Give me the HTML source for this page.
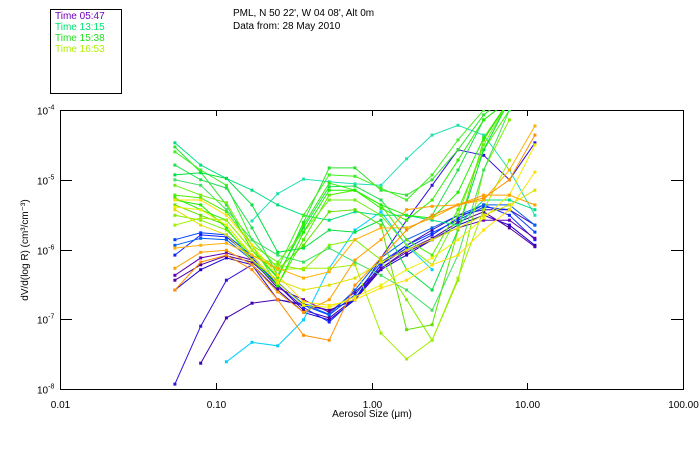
<!DOCTYPE html>
<html><head><meta charset="utf-8"><style>
body{margin:0;background:#fff;width:700px;height:450px;overflow:hidden}
svg{display:block;font-family:"Liberation Sans","DejaVu Sans",sans-serif}
</style></head><body>
<svg id="chart" width="700" height="450">
<rect x="0" y="0" width="700" height="450" fill="#fff"/>
<g>
<rect x="50.5" y="9.5" width="71" height="84" fill="none" stroke="#000"/>
<text x="55" y="19" font-size="10" fill="#7000c0">Time 05:47</text>
<text x="55" y="30" font-size="10" fill="#00e070">Time 13:15</text>
<text x="55" y="41" font-size="10" fill="#20e020">Time 15:38</text>
<text x="55" y="52" font-size="10" fill="#b0f000">Time 16:53</text>
</g>
<text x="233" y="16" font-size="10">PML, N 50 22', W 04 08', Alt 0m</text>
<text x="233" y="29" font-size="10">Data from: 28 May 2010</text>
<g id="axes"></g>
<defs><clipPath id="pc"><rect x="60" y="110" width="623" height="279"/></clipPath></defs>
<g id="series" clip-path="url(#pc)"></g>
<text x="372" y="417" font-size="10" text-anchor="middle">Aerosol Size (μm)</text>
<text transform="translate(28,250) rotate(-90)" font-size="10" text-anchor="middle">dV/d(log R) (cm³/cm⁻³)</text>
</svg>
<script>
// bin sizes (micrometres)
const sizes = [0.0547,0.0800,0.117,0.171,0.250,0.366,0.535,0.783,1.15,1.68,2.45,3.59,5.25,7.68,11.2];
const xTicks = [0.01,0.1,1,10,100];
const xTickLabels = ["0.01","0.10","1.00","10.00","100.00"];
const yTickExps = [-4,-5,-6,-7,-8];
// log10(dV/dlogR) per series
const seriesColors = ["#3010e0","#4000b0","#2000d0","#5000a0","#0040ff","#1020ff","#6000b0","#0060f0","#00d0ff","#20e0b0","#00e080",
"#30e030","#40f020","#20e050","#50f000","#30f000","#00e040","#60e000","#80f000","#a0f000","#40e060","#70f010","#20f000",
"#ffe000","#f0f000","#ffb000","#ff9000","#ffa000","#e0e000"];
const s0 = [-7.93,-7.10,-6.44,-6.22,-6.72,-6.80,-6.87,-6.72,-6.12,-5.58,-5.08,-4.57,-4.65,-5.00,-4.47];
const s1 = [null,-7.63,-6.98,-6.77,-6.72,-6.78,-6.87,-6.72,-6.22,-5.94,-5.72,-5.51,-5.43,-5.43,-5.65];
const s2 = [-6.58,-6.29,-6.12,-6.22,-6.58,-6.90,-7.01,-6.72,-6.29,-6.08,-5.86,-5.65,-5.51,-5.65,-5.94];
const s3 = [-6.44,-6.22,-6.09,-6.18,-6.51,-6.87,-6.98,-6.70,-6.27,-6.01,-5.84,-5.61,-5.46,-5.69,-5.96];
const s4 = [-5.86,-5.76,-5.79,-6.09,-6.47,-6.80,-6.94,-6.65,-6.18,-5.94,-5.76,-5.58,-5.39,-5.43,-5.75];
const s5 = [-6.08,-5.79,-5.82,-6.12,-6.51,-6.83,-7.04,-6.70,-6.22,-5.98,-5.79,-5.55,-5.36,-5.51,-5.86];
const s6 = [-6.37,-6.12,-6.05,-6.15,-6.55,-6.72,-6.90,-6.61,-6.27,-6.04,-5.86,-5.69,-5.58,-5.58,-5.84];
const s7 = [-5.94,-5.84,-5.86,-6.15,-6.48,-6.78,-6.93,-6.58,-6.12,-5.86,-5.69,-5.51,-5.36,-5.36,-5.65];
const s8 = [null,null,-7.61,-7.33,-7.38,-7.01,-6.27,-5.72,-5.46,-5.94,-6.29,null,null,null,null];
const s9 = [null,null,null,-5.59,-5.20,-4.99,-5.03,-5.06,-5.08,-4.70,-4.36,-4.22,-4.36,-4.86,-5.51];
const s10 = [-4.47,-4.79,-4.98,-5.15,-5.36,-5.51,-5.58,-5.46,-5.51,-5.51,-5.58,-5.65,-5.29,-5.29,-5.43];
const s11 = [-4.53,-4.89,-5.36,-6.01,-6.41,-5.61,-4.83,-4.83,-5.15,-5.22,-5.00,-4.57,-4.07,-3.78,null];
const s12 = [-4.60,-4.86,-5.08,-5.86,-6.27,-5.51,-4.93,-4.95,-5.12,-5.29,-4.93,-4.43,-4.00,-3.70,null];
const s13 = [-4.79,-5.00,-5.12,-5.69,-6.37,-5.69,-5.10,-5.09,-5.29,-5.72,-5.51,-4.86,-4.14,-3.86,null];
const s14 = [-5.22,-5.26,-5.46,-5.94,-6.51,-5.86,-5.22,-5.15,-5.36,-5.86,-6.08,-5.43,-4.57,-4.00,null];
const s15 = [-5.26,-5.43,-5.58,-6.01,-6.39,-5.65,-5.05,-5.15,-5.41,-5.58,-5.29,-4.72,-4.14,-3.86,null];
const s16 = [-4.93,-4.90,-4.98,-5.36,-6.04,-5.98,-5.72,-5.75,-5.58,-6.29,-6.58,-5.72,-4.57,-3.86,null];
const s17 = [-5.36,-5.51,-5.65,-6.08,-6.29,-5.94,-5.46,-5.43,-5.65,-7.15,-7.08,-5.72,-4.43,-3.86,null];
const s18 = [-5.51,-5.58,-5.72,-6.08,-6.22,-6.29,-5.94,-5.86,-6.15,-6.72,-7.30,-6.44,-4.86,-4.14,null];
const s19 = [-5.65,-5.55,-5.58,-6.01,-6.29,-6.27,-6.27,-6.22,-7.20,-7.57,-7.30,-6.41,-5.43,-4.72,null];
const s20 = [-5.00,-5.08,-5.43,-5.86,-6.08,-6.18,-5.98,-6.18,-6.37,-6.58,-6.87,-6.08,-4.86,-4.00,null];
const s21 = [-5.08,-5.22,-5.33,-5.94,-6.18,-5.75,-5.29,-5.29,-5.51,-5.94,-6.22,-5.51,-4.50,-3.86,null];
const s22 = [-5.29,-5.36,-5.69,-6.15,-6.52,-5.75,-5.15,-5.15,-5.36,-5.51,-5.55,-5.18,-4.40,-3.86,null];
const s23 = [-5.29,-5.29,-5.51,-5.94,-6.37,-6.75,-6.80,-6.72,-6.55,-6.44,-6.22,-6.08,-5.72,-5.43,-4.89];
const s24 = [-5.39,-5.43,-5.65,-6.08,-6.48,-6.80,-6.83,-6.68,-6.51,-6.29,-6.12,-5.86,-5.55,-5.22,-4.50];
const s25 = [-5.98,-5.94,-5.91,-6.08,-6.27,-6.41,-6.32,-5.86,-5.69,-5.69,-5.55,-5.36,-5.29,-4.86,-4.23];
const s26 = [-6.58,-6.18,-6.08,-6.29,-6.72,-7.23,-7.30,-6.51,-6.12,-5.72,-5.51,-5.36,-5.26,-5.00,-4.36];
const s27 = [-6.27,-6.04,-6.01,-6.22,-6.61,-6.90,-6.72,-6.15,-5.86,-5.43,-5.38,-5.36,-5.22,-5.22,-5.36];
const s28 = [-5.43,-5.65,-5.79,-6.15,-6.44,-6.58,-6.51,-6.41,-6.18,-6.01,-5.86,-5.69,-5.51,-5.36,-5.15];
const allSeries = [s0,s1,s2,s3,s4,s5,s6,s7,s8,s9,s10,s11,s12,s13,s14,s15,s16,s17,s18,s19,s20,s21,s22,s23,s24,s25,s26,s27,s28];

const L=60,R=683,T=110,B=389;
function xPos(v){return L+(Math.log10(v)+2)/4*(R-L);}
function yPos(e){return T+(-4-e)/4*(B-T)*-1*-1;}
const NS="http://www.w3.org/2000/svg";
function mk(tag,attrs,parent){const e=document.createElementNS(NS,tag);for(const k in attrs)e.setAttribute(k,attrs[k]);parent.appendChild(e);return e;}
const ax=document.getElementById('axes');
const frame=mk('rect',{x:L+0.5,y:T+0.5,width:R-L,height:B-T,fill:'none',stroke:'#000'},ax);


xTicks.forEach((t,i)=>{
  const x=Math.round(xPos(t))+0.5;
  const tb=mk('line',{x1:x,x2:x,y1:B,y2:B-6,stroke:'#000'},ax);
  
  
  const tt=mk('line',{x1:x,x2:x,y1:T,y2:T+6,stroke:'#000'},ax);
  
  
  const lb=mk('text',{x:x,y:B+19,'font-size':10,'text-anchor':'middle'},ax);
  lb.textContent=xTickLabels[i];
  
  
});
yTickExps.forEach(e=>{
  const y=Math.round(yPos(e))+0.5;
  const tl=mk('line',{x1:L,x2:L+12,y1:y,y2:y,stroke:'#000'},ax);
  
  
  const tr=mk('line',{x1:R-12,x2:R,y1:y,y2:y,stroke:'#000'},ax);
  
  
  const lb=mk('text',{x:37,y:y+4,'font-size':10},ax);
  lb.innerHTML='10<tspan dy="-5" font-size="7">'+e+'</tspan>';
  
  
});
const sg=document.getElementById('series');
allSeries.forEach((s,si)=>{
  const col=seriesColors[si];
  const g=mk('g',{},sg);
  
  
  let d='';let started=false;
  s.forEach((v,i)=>{
    if(v===null){started=false;return;}
    const x=xPos(sizes[i]),y=yPos(v);
    d+=(started?'L':'M')+x.toFixed(1)+','+y.toFixed(1);started=true;
  });
  mk('path',{d:d,fill:'none',stroke:col,'stroke-width':1},g);
  s.forEach((v,i)=>{
    if(v===null)return;
    const m=mk('rect',{x:(xPos(sizes[i])-1.5).toFixed(1),y:(yPos(v)-1.5).toFixed(1),width:3,height:3,fill:col},g);
    
    
  });
});
</script>
</body></html>
